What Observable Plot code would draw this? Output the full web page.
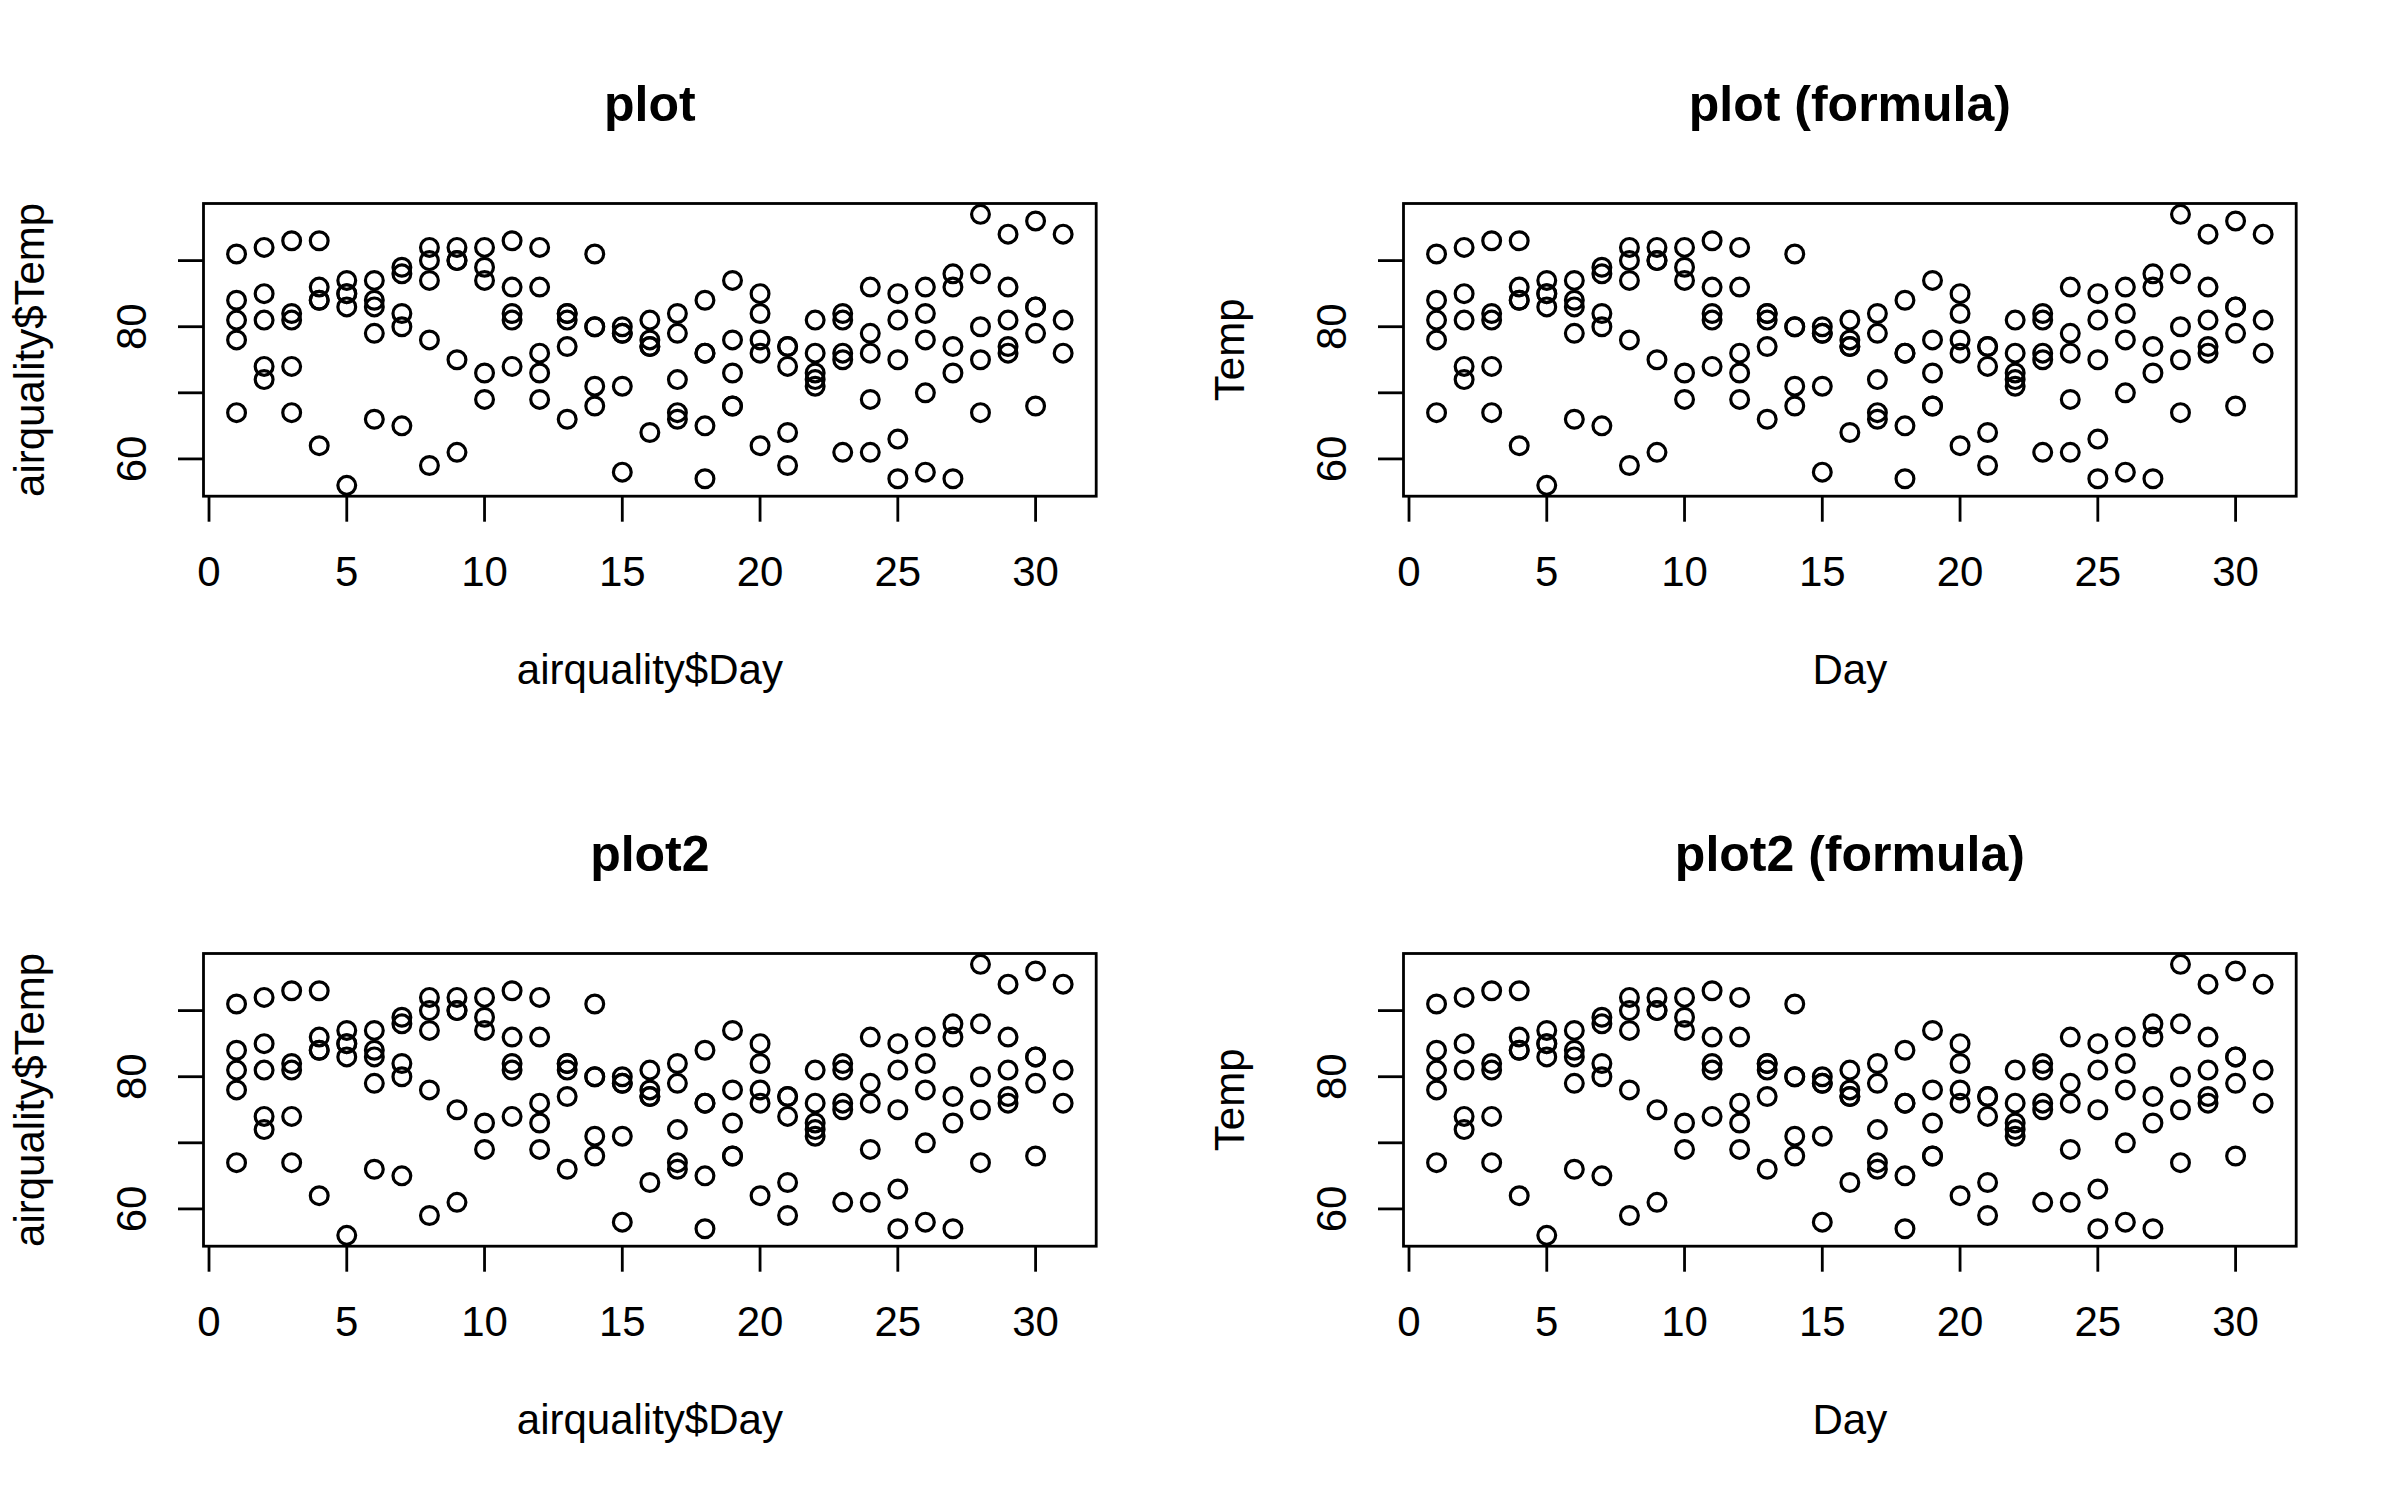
<!DOCTYPE html>
<html>
<head>
<meta charset="utf-8">
<script src="https://cdn.jsdelivr.net/npm/d3@7"></script>
<script src="https://cdn.jsdelivr.net/npm/@observablehq/plot@0.6"></script>
<style>
  html, body { margin: 0; padding: 0; background: white; }
  #grid { position: relative; width: 2400px; height: 1500px; display: grid;
          grid-template-columns: 1200px 1200px; grid-template-rows: 750px 750px; }
  #grid svg { display: block; }
</style>
</head>
<body>
<div id="grid"></div>
<script>
// airquality: Temp by Day of month, one array per month
const days = [1,2,3,4,5,6,7,8,9,10,11,12,13,14,15,16,17,18,19,20,21,22,23,24,25,26,27,28,29,30,31];
const tempMay = [67,72,74,62,56,66,65,59,61,69,74,69,66,68,58,64,66,57,68,62,59,73,61,61,57,58,57,67,81,79,76];
const tempJun = [78,74,67,84,85,79,82,87,90,87,93,92,82,80,79,77,72,65,73,76,77,76,76,76,75,78,73,80,77,83];
const tempJul = [84,85,81,84,83,83,88,92,92,89,82,73,81,91,80,81,82,84,87,85,74,81,82,86,85,82,86,88,86,83,81];
const tempAug = [81,81,82,86,85,87,89,90,90,92,86,86,82,80,79,77,79,76,78,78,77,72,75,79,81,86,88,97,94,96,94];
const tempSep = [91,92,93,93,87,84,80,78,75,73,81,76,77,71,71,78,67,76,68,82,64,71,81,69,63,70,77,75,76,68];

const xTicks = [0,5,10,15,20,25,30];
const yTicks = [60,70,80,90];
const yTickLabels = [60,80];

const titles  = ["plot", "plot (formula)", "plot2", "plot2 (formula)"];
const xTitles = ["airquality$Day", "Day", "airquality$Day", "Day"];
const yTitles = ["airquality$Temp", "Temp", "airquality$Temp", "Temp"];

const rows = [];
for (const temps of [tempMay, tempJun, tempJul, tempAug, tempSep]) {
  temps.forEach((t, i) => rows.push({Day: days[i], Temp: t}));
}

const W = 1200, H = 750;
const mL = 203, mT = 203, mR = W - 1095.7, mB = H - 495.7;
const font = "'Liberation Sans', Arial, Helvetica, sans-serif";
const lw = 2.8;

const grid = document.getElementById("grid");
for (let k = 0; k < 4; k++) {
  const chart = Plot.plot({
    width: W, height: H,
    marginLeft: mL, marginTop: mT, marginRight: mR, marginBottom: mB,
    style: {fontFamily: font, background: "white", color: "black", overflow: "visible"},
    x: {domain: [-0.2, 32.2]},
    y: {domain: [54.36, 98.64]},
    marks: [
      Plot.dot(rows, {x: "Day", y: "Temp", r: 8.9, stroke: "black", strokeWidth: 3.2, fill: "none"}),
      Plot.frame({stroke: "black", strokeWidth: lw}),
      Plot.axisX({ticks: xTicks, tickSize: 26, tickPadding: 34, fontSize: 42,
                  stroke: "black", strokeWidth: lw, label: null, tickFormat: d => String(d)}),
      Plot.axisY({ticks: yTicks, tickSize: 25, tickPadding: 33, fontSize: 42, tickRotate: -90,
                  stroke: "black", strokeWidth: lw, label: null,
                  tickFormat: d => yTickLabels.includes(d) ? String(d) : ""}),
      Plot.text([titles[k]], {text: d => d, frameAnchor: "top", dy: -83, lineAnchor: "bottom",
                  fontSize: 50, fontWeight: "bold", fill: "black"}),
      Plot.text([xTitles[k]], {text: d => d, frameAnchor: "bottom", dy: 187.3, lineAnchor: "bottom",
                  fontSize: 42, fill: "black"}),
      Plot.text([yTitles[k]], {text: d => d, frameAnchor: "left", dx: -159.7, rotate: -90,
                  textAnchor: "middle", lineAnchor: "bottom", fontSize: 42, fill: "black"})
    ]
  });
  grid.appendChild(chart);
}
</script>
</body>
</html>
